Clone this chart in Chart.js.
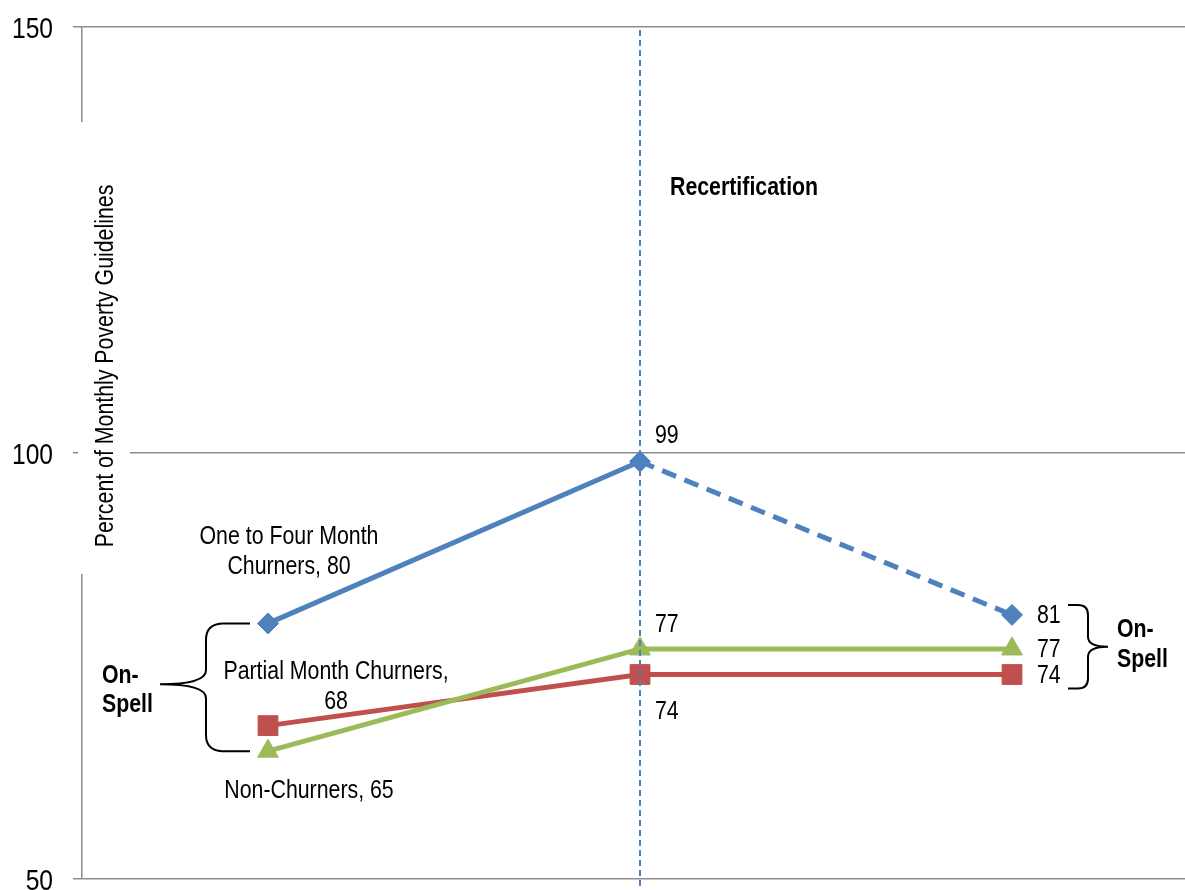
<!DOCTYPE html>
<html>
<head>
<meta charset="utf-8">
<script src="https://cdn.jsdelivr.net/npm/chart.js@4/dist/chart.umd.min.js"></script>
<style>
  html, body { margin: 0; padding: 0; background: #fff; overflow: hidden; }
  canvas { display: block; }
</style>
</head>
<body>
<canvas id="chart" width="1185" height="890"></canvas>
<script>
const categories = ["Before", "Recertification", "After"];
const seriesNames = ["One to Four Month Churners", "Partial Month Churners", "Non-Churners"];
const oneToFourMonth = [80, 99, 81];
const partialMonth = [68, 74, 74];
const nonChurners = [65, 77, 77];
const yTicks = [50, 100, 150];
const yTitle = "Percent of Monthly Poverty Guidelines";
const markerLabel = "Recertification";
const braceLabel = ["On-", "Spell"];

// no narrow font installed, so squeeze Liberation Sans to look like Arial Narrow
const FONT = '"Liberation Sans", Arial, sans-serif';
const NARROW = 0.82;
const BLUE = "#4f81bd";
const RED = "#c0504d";
const GREEN = "#9bbb59";
const GRID = "#8c8c8c";

// the source plot runs past the right edge, so the last category is not centred
let xMin = -0.5;
let xMax = 2.465;

function toPoints(values) {
  return values.map((v, i) => ({ x: i, y: v }));
}

function drawText(ctx, str, x, y, size, bold, align) {
  ctx.save();
  ctx.font = (bold ? "bold " : "") + size + "px " + FONT;
  ctx.textAlign = align || "left";
  ctx.textBaseline = "alphabetic";
  ctx.fillStyle = "#000";
  ctx.translate(x, y);
  ctx.scale(NARROW, 1);
  ctx.fillText(str, 0, 0);
  ctx.restore();
}

// wrap a label the way the spreadsheet did, at a fixed width
function wrapLabel(ctx, str, size, maxWidth) {
  ctx.font = size + "px " + FONT;
  let words = str.split(" ");
  let lines = [];
  let line = "";
  for (let w of words) {
    let test = line ? line + " " + w : w;
    if (line && ctx.measureText(test).width * NARROW > maxWidth) {
      lines.push(line);
      line = w;
    } else {
      line = test;
    }
  }
  lines.push(line);
  return lines;
}

let annotations = {
  id: "annotations",
  afterDatasetsDraw(chart) {
    let ctx = chart.ctx;
    let x = chart.scales.x.getPixelForValue(categories.indexOf("Recertification"));
    ctx.save();
    ctx.strokeStyle = BLUE;
    ctx.lineWidth = 2;
    ctx.setLineDash([6, 4]);
    ctx.beginPath();
    ctx.moveTo(x, chart.chartArea.top + 3);
    ctx.lineTo(x, chart.height);
    ctx.stroke();
    ctx.restore();
  },
  afterDraw(chart) {
    let ctx = chart.ctx;
    let xs = chart.scales.x;
    let ys = chart.scales.y;
    let px = (i) => xs.getPixelForValue(i);
    let py = (v) => ys.getPixelForValue(v);
    let all = [oneToFourMonth, partialMonth, nonChurners];

    ctx.save();

    // y tick labels, from the scale's own ticks
    for (let t of ys.ticks) {
      drawText(ctx, String(t.value), ys.left + ys.width - 29, py(t.value) + 11, 30, false, "right");
    }

    // axis title sits on a white box that hides the axis line
    ctx.fillStyle = "#fff";
    ctx.fillRect(78, 122, 52, 452);
    ctx.save();
    ctx.translate(113, 366);
    ctx.rotate(-Math.PI / 2);
    drawText(ctx, yTitle, 0, 0, 26, false, "center");
    ctx.restore();

    drawText(ctx, markerLabel, px(1) + 30, chart.chartArea.top + 168, 26, true);

    // labels at the first point: series name and value
    let firstDx = [21, 68, 41];
    let firstDy = [-79, -47, 47];
    for (let s = 0; s < 3; s++) {
      let lines = wrapLabel(ctx, seriesNames[s] + ", " + all[s][0], 26, 240);
      lines.forEach((ln, k) => {
        drawText(ctx, ln, px(0) + firstDx[s], py(all[s][0]) + firstDy[s] + k * 30, 26, false, "center");
      });
    }

    // values at recertification and after
    let midDy = [-19, 44, -17];
    for (let s = 0; s < 3; s++) {
      drawText(ctx, String(all[s][1]), px(1) + 15, py(all[s][1]) + midDy[s], 26);
      drawText(ctx, String(all[s][2]), px(2) + 25, py(all[s][2]) + 8, 26);
    }

    // braces
    ctx.strokeStyle = "#000";
    ctx.lineWidth = 2;
    ctx.setLineDash([]);
    let top = py(oneToFourMonth[0]);
    let bot = py(nonChurners[0]);
    let mid = (top + bot) / 2 - 3;
    let sx = 206, ex = 250, tx = 160;
    ctx.beginPath();
    ctx.moveTo(ex, top);
    ctx.lineTo(sx + 16, top);
    ctx.quadraticCurveTo(sx, top + 1, sx, top + 16);
    ctx.lineTo(sx, mid - 14);
    ctx.quadraticCurveTo(sx, mid, tx, mid);
    ctx.quadraticCurveTo(sx, mid, sx, mid + 14);
    ctx.lineTo(sx, bot - 16);
    ctx.quadraticCurveTo(sx, bot - 1, sx + 16, bot);
    ctx.lineTo(ex, bot);
    ctx.stroke();
    drawText(ctx, braceLabel[0], 102, mid - 1, 26, true);
    drawText(ctx, braceLabel[1], 102, mid + 28, 26, true);

    top = py(oneToFourMonth[2]) - 10;
    bot = py(partialMonth[2]) + 14;
    mid = (top + bot) / 2;
    sx = 1088; ex = 1068; tx = 1108;
    ctx.beginPath();
    ctx.moveTo(ex, top);
    ctx.lineTo(sx - 10, top);
    ctx.quadraticCurveTo(sx, top, sx, top + 10);
    ctx.lineTo(sx, mid - 10);
    ctx.quadraticCurveTo(sx, mid, tx, mid);
    ctx.quadraticCurveTo(sx, mid, sx, mid + 10);
    ctx.lineTo(sx, bot - 10);
    ctx.quadraticCurveTo(sx, bot, sx - 10, bot);
    ctx.lineTo(ex, bot);
    ctx.stroke();
    drawText(ctx, braceLabel[0], 1117, mid - 10, 26, true);
    drawText(ctx, braceLabel[1], 1117, mid + 20, 26, true);

    ctx.restore();
  },
};

new Chart(document.getElementById("chart"), {
  type: "line",
  data: {
    datasets: [
      {
        label: seriesNames[0],
        data: toPoints(oneToFourMonth),
        borderColor: BLUE,
        backgroundColor: BLUE,
        borderWidth: 5,
        pointStyle: "rectRot",
        pointRadius: 10.5,
        pointBorderWidth: 1,
        segment: {
          borderDash: (c) => (c.p0DataIndex === 1 ? [15, 9] : undefined),
        },
        order: 2,
      },
      {
        label: seriesNames[1],
        data: toPoints(partialMonth),
        borderColor: RED,
        backgroundColor: RED,
        borderWidth: 5,
        pointStyle: "rect",
        pointRadius: 14,
        pointBorderWidth: 1,
        order: 1,
      },
      {
        label: seriesNames[2],
        data: toPoints(nonChurners),
        borderColor: GREEN,
        backgroundColor: GREEN,
        borderWidth: 5,
        pointStyle: "triangle",
        pointRadius: 12,
        pointBorderWidth: 1,
        order: 0,
      },
    ],
  },
  options: {
    responsive: false,
    animation: false,
    devicePixelRatio: 1,
    layout: { autoPadding: false, padding: { top: 27, bottom: 11, left: 0, right: 0 } },
    plugins: { legend: { display: false }, tooltip: { enabled: false } },
    scales: {
      x: { type: "linear", min: xMin, max: xMax, display: false },
      y: {
        min: yTicks[0],
        max: yTicks[yTicks.length - 1],
        ticks: { stepSize: yTicks[1] - yTicks[0], display: false },
        grid: { color: GRID, lineWidth: 1.5, tickLength: 9, drawTicks: true },
        border: { display: true, color: GRID, width: 1.5 },
        afterFit: (scale) => {
          scale.width = 82;
          scale.paddingTop = 0;
          scale.paddingBottom = 0;
        },
      },
    },
  },
  plugins: [annotations],
});
</script>
</body>
</html>
